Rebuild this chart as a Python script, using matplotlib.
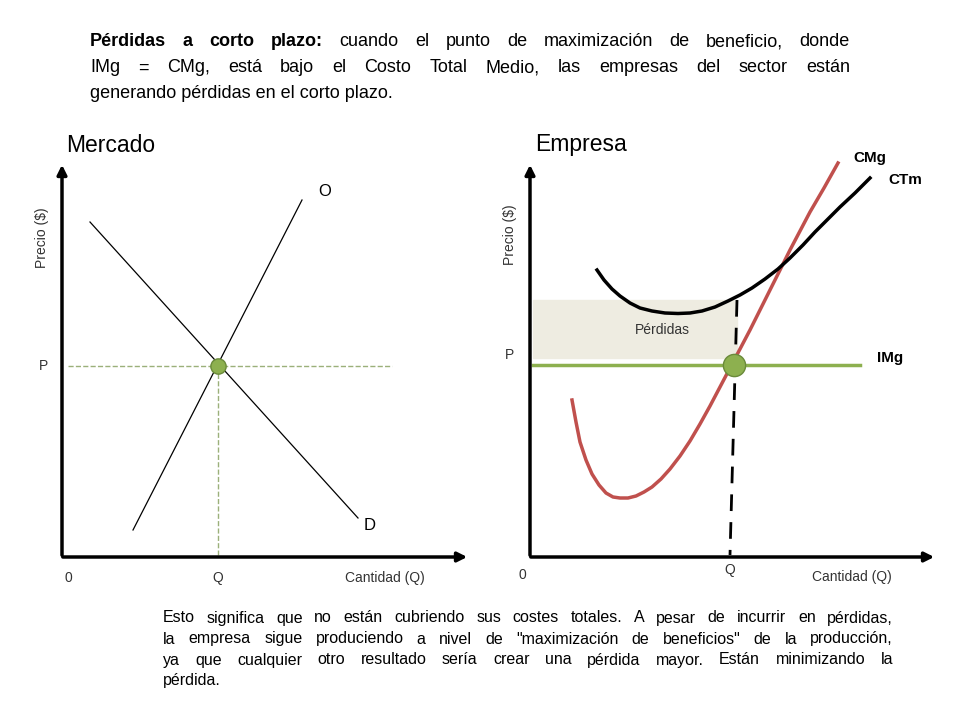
import matplotlib.pyplot as plt
from matplotlib.patches import Rectangle

plt.rcParams["font.family"] = "Liberation Sans"

# left panel (market), pixel-like coordinates of the slide
supply_x = [133, 302]
supply_y = [530, 200]
demand_x = [90, 358]
demand_y = [222, 518]
market_eq = (218, 366)

# right panel (firm)
cmg_x = [572, 576, 580, 586, 592, 599, 606, 613, 620, 628, 636, 644, 652, 661, 670, 680, 690, 700, 710, 720, 730, 740, 750, 760, 770, 780, 790, 800, 810, 824, 838]
cmg_y = [400, 422, 442, 460, 474, 485, 493, 497, 498, 498, 496, 492, 487, 479, 469, 456, 441, 424, 406, 387, 368, 349, 330, 310, 290, 270, 250, 231, 212, 188, 163]
ctm_x = [597, 604, 612, 620, 630, 640, 652, 665, 678, 690, 702, 715, 728, 740, 752, 765, 778, 790, 803, 815, 828, 840, 855, 870]
ctm_y = [270, 280, 289, 296, 303, 308, 311, 313, 313.5, 313, 311, 307, 301, 295, 288, 279, 269, 258, 245, 232, 219, 207, 193, 178]
img_y = 365
firm_eq = (734, 365)
loss_top = 300

fig = plt.figure(figsize=(9.6, 7.2), dpi=100)
ax = fig.add_axes([0, 0, 1, 1])
ax.set_xlim(0, 960)
ax.set_ylim(720, 0)
ax.axis("off")

arrow = dict(arrowstyle="-|>", color="black", lw=2.5, mutation_scale=14)
for ox, xend in [(62, 470), (530, 937)]:
    ax.annotate("", xy=(xend, 557), xytext=(ox - 2, 557), arrowprops=arrow)
    ax.annotate("", xy=(ox, 162), xytext=(ox, 558), arrowprops=arrow)

# market
ax.plot(supply_x, supply_y, color="black", lw=0.9)
ax.plot(demand_x, demand_y, color="black", lw=0.9)
ax.plot([68, 392], [market_eq[1]] * 2, ls="--", color="#9bb07a", lw=1)
ax.plot([market_eq[0]] * 2, [market_eq[1], 555], ls="--", color="#9bb07a", lw=1)
ax.plot(*market_eq, "o", ms=11, color="#8db04f", mec="#6a8a3a")

# firm
ax.add_patch(Rectangle((533, loss_top), 737 - 533, img_y - 7 - loss_top,
                       color="#eeece1", zorder=0))
ax.plot([533, 860], [img_y] * 2, color="#8db04f", lw=2.5)
ax.plot(cmg_x, cmg_y, color="#c0504d", lw=2.5)
ax.plot(ctm_x, ctm_y, color="black", lw=2.5)
ax.plot([737, 730], [loss_top, 555], ls=(0, (6, 4)), color="black", lw=2)
ax.plot(*firm_eq, "o", ms=16, color="#8db04f", mec="#6a8a3a", zorder=5)

lab = dict(fontsize=10, ha="center", va="center", color="#333333")
ax.text(43, 366, "P", **lab)
ax.text(218, 578, "Q", **lab)
ax.text(68, 578, "0", **lab)
ax.text(385, 578, "Cantidad (Q)", **lab)
ax.text(42, 238, "Precio ($)", rotation=90, **lab)
ax.text(325, 192, "O", fontsize=12, ha="center", va="center")
ax.text(370, 525, "D", fontsize=12, ha="center", va="center")
ax.text(66, 145, "Mercado", fontsize=16.5, va="center")
ax.text(510, 355, "P", **lab)
ax.text(730, 570, "Q", **lab)
ax.text(522, 575, "0", **lab)
ax.text(852, 577, "Cantidad (Q)", **lab)
ax.text(510, 235, "Precio ($)", rotation=90, **lab)
ax.text(662, 330, "Pérdidas", **lab)
ax.text(535, 145, "Empresa", fontsize=16.5, va="center")
ax.text(870, 158, "CMg", fontsize=11, fontweight="bold", ha="center", va="center")
ax.text(905, 180, "CTm", fontsize=11, fontweight="bold", ha="center", va="center")
ax.text(890, 358, "IMg", fontsize=11, fontweight="bold", ha="center", va="center")

renderer = fig.canvas.get_renderer()


def justified(words, x0, x1, y, size, bold_count=0):
    """Place words so the line spans x0..x1 (slide pixel coords)."""
    arts, widths = [], []
    for i, w in enumerate(words):
        t = ax.text(0, y, w, fontsize=size, va="center",
                    fontweight="bold" if i < bold_count else "normal")
        bb = t.get_window_extent(renderer)
        arts.append(t)
        widths.append(bb.width)
    gap = (x1 - x0 - sum(widths)) / max(len(words) - 1, 1)
    x = x0
    for t, wd in zip(arts, widths):
        t.set_x(x)
        x += wd + gap


def plain(words, x0, y, size):
    ax.text(x0, y, " ".join(words), fontsize=size, va="center")


top = [("Pérdidas a corto plazo: cuando el punto de maximización de beneficio, donde", 4),
       ("IMg = CMg, está bajo el Costo Total Medio, las empresas del sector están", 0)]
for i, (line, nb) in enumerate(top):
    justified(line.split(), 90, 850, 42 + i * 26, 13, nb)
plain("generando pérdidas en el corto plazo.".split(), 90, 94, 13)

bottom = ["Esto significa que no están cubriendo sus costes totales. A pesar de incurrir en pérdidas,",
          "la empresa sigue produciendo a nivel de \"maximización de beneficios\" de la producción,",
          "ya que cualquier otro resultado sería crear una pérdida mayor. Están minimizando la"]
for i, line in enumerate(bottom):
    justified(line.split(), 163, 893, 618 + i * 21, 11.5)
plain(["pérdida."], 163, 618 + 3 * 21, 11.5)

fig.savefig("out.png", dpi=100)
